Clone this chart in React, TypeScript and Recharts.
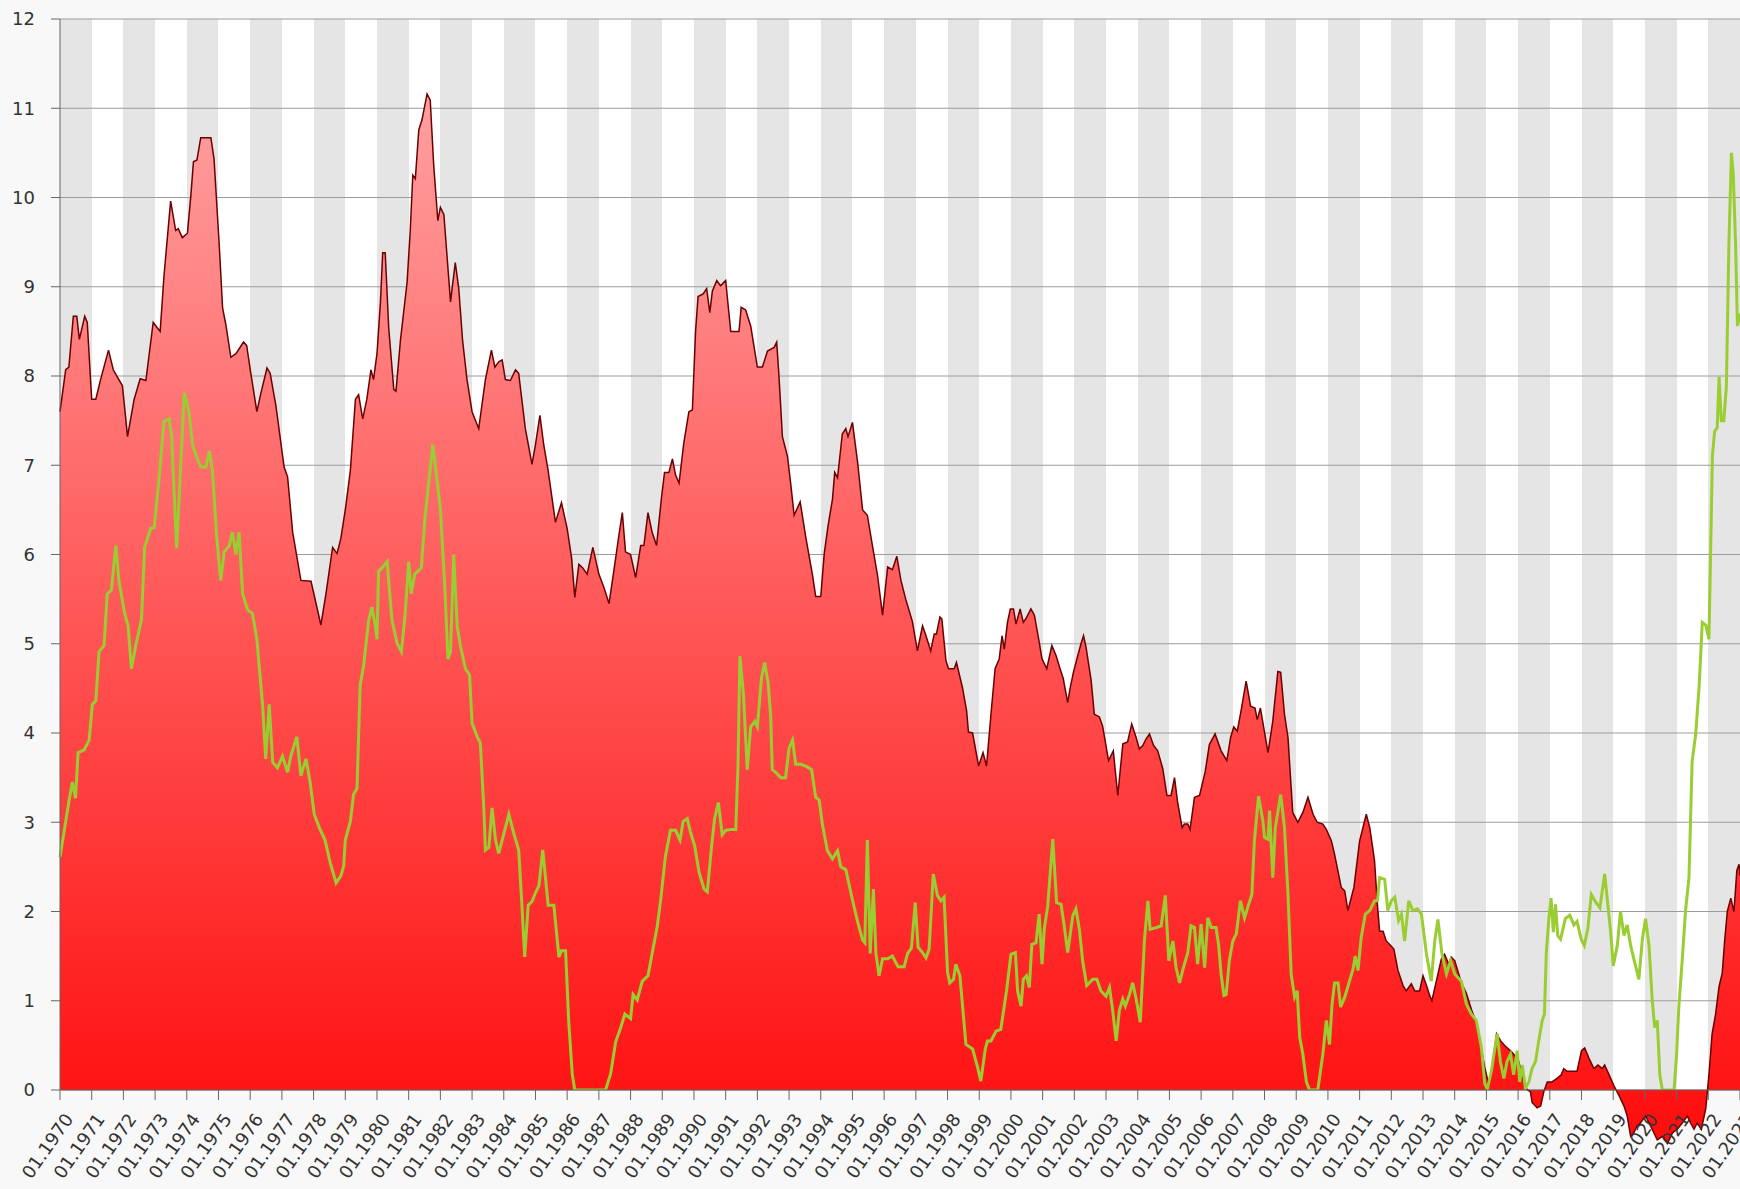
import React from "react";
import { Area, CartesianGrid, ComposedChart, Line, XAxis, YAxis } from "recharts";

const CHART_W = 1740;
const CHART_H = 1189;
const FONT = "'DejaVu Sans', Verdana, sans-serif";

// Red area: [decimal year, value].
const rate1970s: [number, number][] = [
  [1970.0, 7.6], [1970.18, 8.07], [1970.28, 8.1], [1970.42, 8.67], [1970.53, 8.67], [1970.61, 8.41],
  [1970.78, 8.67], [1970.86, 8.6], [1971.0, 7.74], [1971.13, 7.74], [1971.28, 7.96], [1971.53, 8.29],
  [1971.68, 8.07], [1971.97, 7.89], [1972.13, 7.32], [1972.34, 7.74], [1972.53, 7.97], [1972.71, 7.95],
  [1972.94, 8.6], [1973.16, 8.5], [1973.28, 9.12], [1973.49, 9.96], [1973.65, 9.63], [1973.73, 9.65],
  [1973.86, 9.55], [1974.02, 9.6], [1974.13, 10.03], [1974.21, 10.4], [1974.32, 10.42], [1974.44, 10.67],
  [1974.76, 10.67], [1974.86, 10.43], [1975.02, 9.49], [1975.13, 8.76], [1975.23, 8.58], [1975.39, 8.21],
  [1975.55, 8.25], [1975.79, 8.38], [1975.89, 8.34], [1976.02, 8.03], [1976.21, 7.6], [1976.34, 7.81],
  [1976.53, 8.09], [1976.63, 8.03], [1976.81, 7.67], [1977.07, 6.98], [1977.18, 6.87], [1977.34, 6.25],
  [1977.6, 5.71], [1977.92, 5.7], [1978.23, 5.21], [1978.39, 5.56], [1978.6, 6.08], [1978.74, 6.01],
  [1978.86, 6.18], [1979.0, 6.5], [1979.16, 6.94], [1979.32, 7.74], [1979.42, 7.79], [1979.55, 7.52],
  [1979.68, 7.74], [1979.81, 8.07], [1979.89, 7.96],
];

const rate1980s: [number, number][] = [
  [1980.0, 8.25], [1980.11, 8.83], [1980.18, 9.38], [1980.26, 9.38], [1980.37, 8.54], [1980.53, 7.85],
  [1980.6, 7.83], [1980.74, 8.4], [1980.95, 9.05], [1981.05, 9.63], [1981.13, 10.25], [1981.21, 10.21],
  [1981.32, 10.76], [1981.42, 10.87], [1981.58, 11.16], [1981.68, 11.09], [1981.79, 10.36], [1981.92, 9.74],
  [1982.0, 9.89], [1982.11, 9.81], [1982.32, 8.83], [1982.47, 9.27], [1982.58, 8.98], [1982.7, 8.4],
  [1982.84, 7.96], [1983.0, 7.6], [1983.21, 7.41], [1983.42, 7.96], [1983.61, 8.29], [1983.72, 8.1],
  [1983.84, 8.16], [1983.95, 8.18], [1984.05, 7.96], [1984.21, 7.95], [1984.37, 8.07], [1984.47, 8.03],
  [1984.68, 7.41], [1984.89, 7.01], [1985.0, 7.23], [1985.14, 7.56], [1985.26, 7.23], [1985.4, 6.94],
  [1985.63, 6.36], [1985.82, 6.58], [1986.0, 6.29], [1986.14, 5.96], [1986.24, 5.52], [1986.37, 5.89],
  [1986.49, 5.85], [1986.63, 5.78], [1986.81, 6.08], [1987.0, 5.78], [1987.16, 5.63], [1987.32, 5.45],
  [1987.47, 5.81], [1987.63, 6.21], [1987.74, 6.47], [1987.84, 6.03], [1988.0, 6.0], [1988.16, 5.74],
  [1988.32, 6.1], [1988.42, 6.1], [1988.55, 6.47], [1988.68, 6.25], [1988.82, 6.1], [1988.97, 6.62],
  [1989.07, 6.92], [1989.21, 6.92], [1989.32, 7.07], [1989.42, 6.89], [1989.53, 6.8], [1989.68, 7.25],
  [1989.84, 7.6], [1989.95, 7.62],
];

const rate1990s: [number, number][] = [
  [1990.05, 8.5], [1990.13, 8.89], [1990.29, 8.92], [1990.4, 8.98], [1990.5, 8.71], [1990.58, 8.95],
  [1990.72, 9.07], [1990.84, 9.01], [1991.0, 9.07], [1991.16, 8.5], [1991.42, 8.5], [1991.49, 8.77],
  [1991.63, 8.74], [1991.79, 8.56], [1992.0, 8.1], [1992.16, 8.1], [1992.32, 8.28], [1992.53, 8.32],
  [1992.61, 8.38], [1992.68, 8.01], [1992.79, 7.32], [1992.95, 7.1], [1993.05, 6.8], [1993.16, 6.44],
  [1993.35, 6.59], [1993.53, 6.19], [1993.74, 5.77], [1993.84, 5.53], [1994.0, 5.53], [1994.11, 6.01],
  [1994.23, 6.32], [1994.37, 6.62], [1994.44, 6.92], [1994.53, 6.86], [1994.68, 7.35], [1994.79, 7.41],
  [1994.86, 7.32], [1995.0, 7.48], [1995.16, 7.04], [1995.32, 6.5], [1995.47, 6.44], [1995.63, 6.1],
  [1995.79, 5.77], [1995.95, 5.32], [1996.11, 5.86], [1996.26, 5.83], [1996.4, 5.98], [1996.53, 5.71],
  [1996.68, 5.5], [1996.89, 5.25], [1997.05, 4.92], [1997.21, 5.2], [1997.32, 5.09], [1997.47, 4.92],
  [1997.58, 5.11], [1997.65, 5.11], [1997.76, 5.3], [1997.82, 5.28], [1997.95, 4.81], [1998.03, 4.72],
  [1998.21, 4.72], [1998.28, 4.79], [1998.47, 4.51], [1998.6, 4.25], [1998.66, 4.01], [1998.79, 4.0],
  [1998.98, 3.63], [1999.12, 3.78], [1999.23, 3.63], [1999.37, 4.21], [1999.5, 4.72], [1999.63, 4.83],
  [1999.72, 5.09], [1999.79, 4.94], [1999.89, 5.24], [1999.98, 5.39],
];

const rate2000s: [number, number][] = [
  [2000.08, 5.39], [2000.16, 5.22], [2000.29, 5.39], [2000.39, 5.24], [2000.47, 5.28], [2000.63, 5.39],
  [2000.74, 5.32], [2000.89, 5.02], [2000.98, 4.83], [2001.13, 4.72], [2001.29, 4.98], [2001.42, 4.87],
  [2001.55, 4.72], [2001.65, 4.61], [2001.79, 4.34], [2001.86, 4.49], [2001.97, 4.68], [2002.11, 4.87],
  [2002.21, 5.0], [2002.29, 5.09], [2002.37, 4.96], [2002.53, 4.59], [2002.63, 4.21], [2002.79, 4.18],
  [2002.89, 4.08], [2003.08, 3.69], [2003.23, 3.8], [2003.37, 3.3], [2003.53, 3.88], [2003.68, 3.9],
  [2003.81, 4.1], [2003.95, 3.95], [2004.05, 3.82], [2004.16, 3.86], [2004.26, 3.93], [2004.37, 3.99],
  [2004.5, 3.86], [2004.63, 3.8], [2004.79, 3.6], [2004.92, 3.3], [2005.05, 3.3], [2005.16, 3.5],
  [2005.26, 3.22], [2005.4, 2.94], [2005.47, 2.98], [2005.58, 2.98], [2005.65, 2.92], [2005.79, 3.28],
  [2005.95, 3.3], [2006.13, 3.57], [2006.26, 3.87], [2006.44, 3.99], [2006.63, 3.8], [2006.81, 3.69],
  [2006.93, 3.95], [2007.03, 4.07], [2007.14, 4.02], [2007.26, 4.25], [2007.42, 4.58], [2007.56, 4.3],
  [2007.7, 4.28], [2007.77, 4.15], [2007.87, 4.28], [2008.11, 3.78], [2008.26, 4.13], [2008.42, 4.69],
  [2008.51, 4.68], [2008.63, 4.21], [2008.74, 3.95], [2008.89, 3.11], [2009.05, 3.0], [2009.21, 3.11],
  [2009.37, 3.28], [2009.53, 3.09], [2009.66, 3.0], [2009.84, 2.98], [2009.95, 2.92],
];

const rate2010s: [number, number][] = [
  [2010.11, 2.79], [2010.21, 2.64], [2010.42, 2.27], [2010.53, 2.23], [2010.63, 2.01], [2010.82, 2.27],
  [2011.0, 2.79], [2011.21, 3.09], [2011.32, 2.94], [2011.47, 2.57], [2011.56, 2.08], [2011.63, 1.78],
  [2011.74, 1.78], [2011.84, 1.67], [2011.95, 1.63], [2012.08, 1.58], [2012.21, 1.34], [2012.37, 1.17],
  [2012.47, 1.11], [2012.63, 1.19], [2012.74, 1.11], [2012.89, 1.11], [2013.0, 1.28], [2013.11, 1.17],
  [2013.21, 1.06], [2013.28, 1.0], [2013.42, 1.22], [2013.58, 1.47], [2013.68, 1.52], [2013.81, 1.41],
  [2013.89, 1.49], [2014.0, 1.45], [2014.11, 1.32], [2014.21, 1.2], [2014.37, 1.08], [2014.53, 0.9],
  [2014.68, 0.75], [2014.82, 0.5], [2014.95, 0.25], [2015.08, 0.05], [2015.2, 0.3], [2015.32, 0.63],
  [2015.45, 0.55], [2015.6, 0.49], [2015.76, 0.44], [2015.86, 0.4], [2016.02, 0.32], [2016.12, 0.17],
  [2016.23, 0.02], [2016.39, -0.02], [2016.44, -0.14], [2016.6, -0.2], [2016.71, -0.18], [2016.81, -0.02],
  [2016.92, 0.09], [2017.07, 0.09], [2017.23, 0.13], [2017.36, 0.17], [2017.44, 0.24], [2017.55, 0.21],
  [2017.7, 0.21], [2017.86, 0.21], [2018.0, 0.44], [2018.1, 0.47], [2018.23, 0.36], [2018.39, 0.24],
  [2018.52, 0.28], [2018.65, 0.24], [2018.73, 0.28], [2018.87, 0.17], [2019.02, 0.05], [2019.18, -0.06],
  [2019.34, -0.18], [2019.44, -0.29], [2019.55, -0.52], [2019.65, -0.48], [2019.76, -0.4], [2019.86, -0.37],
];

const rate2020s: [number, number][] = [
  [2020.02, -0.29], [2020.13, -0.37], [2020.23, -0.44], [2020.39, -0.56], [2020.55, -0.52], [2020.71, -0.6],
  [2020.87, -0.48], [2021.02, -0.44], [2021.18, -0.37], [2021.34, -0.29], [2021.44, -0.37], [2021.55, -0.44],
  [2021.65, -0.37], [2021.78, -0.44], [2021.92, -0.21], [2022.02, 0.17], [2022.12, 0.63], [2022.23, 0.85],
  [2022.34, 1.16], [2022.44, 1.31], [2022.52, 1.69], [2022.6, 2.0], [2022.71, 2.15], [2022.81, 2.0],
  [2022.9, 2.46], [2022.97, 2.53], [2023.0, 2.4],
];

// Green line: [decimal year, value].
const cpi1970s: [number, number][] = [
  [1970.0, 2.61], [1970.13, 2.9], [1970.28, 3.23], [1970.39, 3.45], [1970.49, 3.27], [1970.57, 3.78],
  [1970.76, 3.81], [1970.92, 3.92], [1971.02, 4.32], [1971.13, 4.36], [1971.23, 4.91], [1971.39, 4.98],
  [1971.49, 5.56], [1971.62, 5.6], [1971.76, 6.1], [1971.86, 5.7], [1972.04, 5.34], [1972.15, 5.2],
  [1972.25, 4.72], [1972.39, 4.98], [1972.57, 5.27], [1972.67, 6.08], [1972.86, 6.29], [1972.97, 6.3],
  [1973.13, 6.87], [1973.28, 7.49], [1973.44, 7.52], [1973.52, 7.34], [1973.68, 6.07], [1973.81, 7.01],
  [1973.92, 7.81], [1974.07, 7.6], [1974.18, 7.23], [1974.28, 7.12], [1974.44, 6.98], [1974.6, 6.98],
  [1974.71, 7.16], [1974.81, 6.94], [1974.94, 6.21], [1975.07, 5.71], [1975.18, 6.03], [1975.34, 6.1],
  [1975.44, 6.25], [1975.55, 6.0], [1975.65, 6.25], [1975.76, 5.56], [1975.92, 5.38], [1976.07, 5.34],
  [1976.21, 5.05], [1976.39, 4.32], [1976.49, 3.71], [1976.6, 4.32], [1976.71, 3.67], [1976.86, 3.61],
  [1977.02, 3.74], [1977.18, 3.56], [1977.28, 3.74], [1977.47, 3.96], [1977.6, 3.52], [1977.76, 3.71],
  [1977.89, 3.45], [1978.02, 3.09], [1978.18, 2.94], [1978.36, 2.8], [1978.53, 2.54], [1978.71, 2.32],
  [1978.86, 2.4], [1978.95, 2.51], [1979.0, 2.8], [1979.16, 3.01], [1979.26, 3.31], [1979.37, 3.38],
  [1979.47, 4.54], [1979.58, 4.76], [1979.74, 5.27], [1979.84, 5.41], [1979.95, 5.2],
];

const cpi1980s: [number, number][] = [
  [1980.0, 5.05], [1980.05, 5.81], [1980.16, 5.85], [1980.32, 5.92], [1980.47, 5.27], [1980.63, 5.01],
  [1980.77, 4.91], [1980.89, 5.34], [1981.0, 5.92], [1981.08, 5.56], [1981.19, 5.78], [1981.4, 5.85],
  [1981.5, 6.36], [1981.63, 6.8], [1981.76, 7.23], [1981.86, 6.94], [1982.0, 6.51], [1982.14, 5.63],
  [1982.24, 4.83], [1982.32, 4.91], [1982.42, 6.0], [1982.53, 5.2], [1982.63, 4.98], [1982.79, 4.72],
  [1982.92, 4.65], [1983.0, 4.11], [1983.16, 3.96], [1983.26, 3.89], [1983.37, 3.16], [1983.42, 2.69],
  [1983.53, 2.72], [1983.63, 3.16], [1983.74, 2.8], [1983.84, 2.65], [1984.0, 2.87], [1984.16, 3.09],
  [1984.32, 2.87], [1984.47, 2.69], [1984.56, 2.15], [1984.66, 1.49], [1984.77, 2.07], [1984.89, 2.11],
  [1985.0, 2.21], [1985.11, 2.29], [1985.23, 2.69], [1985.34, 2.29], [1985.4, 2.07], [1985.58, 2.07],
  [1985.74, 1.49], [1985.82, 1.56], [1985.95, 1.56], [1986.05, 0.76], [1986.16, 0.18], [1986.24, 0],
  [1987.21, 0], [1987.37, 0.18], [1987.53, 0.54], [1987.68, 0.69], [1987.82, 0.85], [1988.0, 0.8],
  [1988.08, 1.07], [1988.21, 1.01], [1988.37, 1.22], [1988.55, 1.28], [1988.68, 1.53], [1988.84, 1.83],
  [1988.95, 2.13], [1989.1, 2.62], [1989.26, 2.91], [1989.42, 2.91], [1989.56, 2.8], [1989.66, 3.01],
  [1989.79, 3.04], [1989.89, 2.89],
];

const cpi1990s: [number, number][] = [
  [1990.02, 2.74], [1990.16, 2.44], [1990.32, 2.25], [1990.42, 2.22], [1990.55, 2.71], [1990.65, 3.04],
  [1990.77, 3.22], [1990.89, 2.86], [1991.0, 2.91], [1991.16, 2.92], [1991.32, 2.92], [1991.39, 3.65],
  [1991.45, 4.86], [1991.56, 4.44], [1991.68, 3.59], [1991.79, 4.07], [1991.92, 4.13], [1992.0, 4.07],
  [1992.13, 4.62], [1992.23, 4.79], [1992.34, 4.56], [1992.42, 4.19], [1992.47, 3.59], [1992.58, 3.56],
  [1992.74, 3.5], [1992.89, 3.5], [1993.0, 3.83], [1993.11, 3.92], [1993.21, 3.65], [1993.37, 3.65],
  [1993.58, 3.62], [1993.71, 3.59], [1993.84, 3.28], [1993.95, 3.25], [1994.05, 2.98], [1994.21, 2.68],
  [1994.37, 2.59], [1994.53, 2.68], [1994.63, 2.5], [1994.79, 2.47], [1995.0, 2.13], [1995.16, 1.89],
  [1995.32, 1.68], [1995.39, 1.65], [1995.47, 2.8], [1995.56, 1.53], [1995.66, 2.25], [1995.74, 1.53],
  [1995.84, 1.28], [1995.95, 1.47], [1996.11, 1.47], [1996.26, 1.5], [1996.44, 1.38], [1996.63, 1.38],
  [1996.74, 1.53], [1996.86, 1.59], [1996.98, 2.1], [1997.07, 1.6], [1997.21, 1.54], [1997.32, 1.48],
  [1997.42, 1.58], [1997.55, 2.42], [1997.68, 2.18], [1997.79, 2.12], [1997.89, 2.16], [1998.0, 1.32],
  [1998.07, 1.2], [1998.19, 1.24], [1998.26, 1.41], [1998.39, 1.28], [1998.58, 0.51], [1998.79, 0.46],
  [1998.95, 0.25], [1999.05, 0.1], [1999.19, 0.46], [1999.26, 0.55], [1999.37, 0.55], [1999.53, 0.66],
  [1999.68, 0.68], [1999.86, 1.11],
];

const cpi2000s: [number, number][] = [
  [2000.0, 1.52], [2000.14, 1.54], [2000.21, 1.11], [2000.32, 0.94], [2000.39, 1.24], [2000.49, 1.28],
  [2000.58, 1.15], [2000.66, 1.63], [2000.79, 1.65], [2000.89, 1.97], [2000.98, 1.41], [2001.05, 1.8],
  [2001.16, 2.06], [2001.32, 2.81], [2001.44, 2.1], [2001.58, 2.08], [2001.68, 1.84], [2001.79, 1.54],
  [2001.95, 1.95], [2002.05, 2.03], [2002.16, 1.8], [2002.26, 1.45], [2002.39, 1.17], [2002.58, 1.24],
  [2002.71, 1.24], [2002.84, 1.11], [2003.0, 1.05], [2003.11, 1.15], [2003.21, 0.89], [2003.32, 0.55],
  [2003.42, 0.89], [2003.53, 1.02], [2003.61, 0.94], [2003.74, 1.07], [2003.84, 1.2], [2003.95, 1.02],
  [2004.08, 0.76], [2004.21, 1.67], [2004.32, 2.12], [2004.39, 1.8], [2004.58, 1.82], [2004.74, 1.84],
  [2004.87, 2.18], [2004.98, 1.45], [2005.11, 1.67], [2005.21, 1.37], [2005.32, 1.2], [2005.44, 1.37],
  [2005.58, 1.54], [2005.68, 1.84], [2005.79, 1.82], [2005.89, 1.41], [2006.0, 1.86], [2006.11, 1.37],
  [2006.21, 1.93], [2006.32, 1.82], [2006.47, 1.82], [2006.55, 1.63], [2006.63, 1.3], [2006.72, 1.06],
  [2006.79, 1.07], [2006.89, 1.45], [2007.0, 1.67], [2007.11, 1.75], [2007.24, 2.12], [2007.37, 1.93],
  [2007.5, 2.08], [2007.6, 2.19], [2007.68, 2.79], [2007.81, 3.29], [2007.95, 3.01], [2008.0, 2.83],
  [2008.11, 2.81], [2008.16, 3.13], [2008.26, 2.38], [2008.34, 2.94], [2008.51, 3.31], [2008.63, 2.94],
  [2008.74, 2.19], [2008.84, 1.3], [2008.95, 1.04], [2009.03, 1.11], [2009.11, 0.59], [2009.21, 0.4],
  [2009.32, 0.09], [2009.42, 0], [2009.68, 0], [2009.84, 0.4], [2009.95, 0.78],
];

const cpi2010s: [number, number][] = [
  [2010.05, 0.51], [2010.13, 0.96], [2010.21, 1.2], [2010.32, 1.2], [2010.4, 0.93], [2010.53, 1.04],
  [2010.68, 1.22], [2010.79, 1.35], [2010.86, 1.5], [2010.95, 1.34], [2011.05, 1.71], [2011.18, 1.97],
  [2011.32, 2.01], [2011.47, 2.12], [2011.56, 2.12], [2011.63, 2.38], [2011.79, 2.36], [2011.89, 2.01],
  [2012.0, 2.12], [2012.11, 2.16], [2012.23, 1.9], [2012.32, 1.97], [2012.42, 1.67], [2012.55, 2.12],
  [2012.68, 2.01], [2012.82, 2.03], [2012.95, 1.97], [2013.11, 1.52], [2013.26, 1.22], [2013.37, 1.67],
  [2013.47, 1.91], [2013.6, 1.52], [2013.74, 1.3], [2013.87, 1.45], [2014.0, 1.3], [2014.21, 1.22],
  [2014.37, 0.96], [2014.53, 0.85], [2014.68, 0.78], [2014.84, 0.48], [2014.95, 0.07], [2015.03, 0.01],
  [2015.16, 0.22], [2015.26, 0.45], [2015.34, 0.63], [2015.44, 0.32], [2015.55, 0.13], [2015.65, 0.32],
  [2015.76, 0.4], [2015.86, 0.17], [2015.97, 0.44], [2016.05, 0.09], [2016.13, 0.28], [2016.23, 0.02],
  [2016.34, 0.09], [2016.44, 0.24], [2016.55, 0.32], [2016.65, 0.55], [2016.76, 0.78], [2016.83, 0.85],
  [2016.89, 1.54], [2016.97, 1.92], [2017.04, 2.15], [2017.11, 1.77], [2017.18, 2.08], [2017.25, 1.73],
  [2017.34, 1.69], [2017.49, 1.92], [2017.63, 1.96], [2017.76, 1.85], [2017.86, 1.89], [2017.99, 1.69],
  [2018.09, 1.62], [2018.2, 1.81], [2018.31, 2.19], [2018.44, 2.11], [2018.58, 2.04], [2018.73, 2.42],
  [2018.83, 2.08], [2018.92, 1.77], [2019.0, 1.39], [2019.13, 1.62], [2019.23, 2.0], [2019.34, 1.73],
  [2019.44, 1.85], [2019.55, 1.62], [2019.65, 1.47], [2019.81, 1.24], [2019.92, 1.69],
];

const cpi2020s: [number, number][] = [
  [2020.02, 1.92], [2020.13, 1.62], [2020.23, 1.01], [2020.31, 0.7], [2020.39, 0.78], [2020.47, 0.17],
  [2020.55, 0], [2020.92, 0], [2021.0, 0.4], [2021.07, 0.93], [2021.18, 1.47], [2021.28, 2.0],
  [2021.39, 2.38], [2021.49, 3.68], [2021.6, 3.98], [2021.71, 4.52], [2021.81, 5.24], [2021.92, 5.21],
  [2022.02, 5.05], [2022.07, 5.97], [2022.13, 7.11], [2022.2, 7.38], [2022.28, 7.42], [2022.34, 7.99],
  [2022.41, 7.5], [2022.49, 7.5], [2022.57, 7.88], [2022.65, 9.48], [2022.73, 10.5], [2022.79, 10.24],
  [2022.86, 9.48], [2022.92, 8.56], [2023.0, 8.7],
];

const yearTicks = [
  1970, 1971, 1972, 1973, 1974, 1975, 1976, 1977, 1978, 1979, 1980, 1981, 1982, 1983, 1984, 1985, 1986,
  1987, 1988, 1989, 1990, 1991, 1992, 1993, 1994, 1995, 1996, 1997, 1998, 1999, 2000, 2001, 2002, 2003,
  2004, 2005, 2006, 2007, 2008, 2009, 2010, 2011, 2012, 2013, 2014, 2015, 2016, 2017, 2018, 2019, 2020,
  2021, 2022, 2023,
];
const valueTicks = [0, 1, 2, 3, 4, 5, 6, 7, 8, 9, 10, 11, 12];

interface Row {
  t: number;
  rate?: number;
  cpi?: number;
}

// Both series are sampled at their own turning points, so merge them on t
// and let connectNulls bridge the gaps.
function buildRows(): Row[] {
  const byT = new Map<number, Row>();
  const put = (list: [number, number][], key: "rate" | "cpi") => {
    for (const [t, v] of list) {
      const row = byT.get(t) ?? { t };
      row[key] = v;
      byT.set(t, row);
    }
  };
  put([...rate1970s, ...rate1980s, ...rate1990s, ...rate2000s, ...rate2010s, ...rate2020s], "rate");
  put([...cpi1970s, ...cpi1980s, ...cpi1990s, ...cpi2000s, ...cpi2010s, ...cpi2020s], "cpi");
  return [...byT.values()].sort((a, b) => a.t - b.t);
}

const rows = buildRows();

function YearTick(props: any) {
  const { x, y, payload } = props;
  const ax = x + 14;
  const ay = y + 17;
  return (
    <text
      x={ax}
      y={ay}
      transform={`rotate(-55 ${ax} ${ay})`}
      textAnchor="end"
      fontSize={18}
      fill="#333"
    >
      {`01.${payload.value}`}
    </text>
  );
}

export default function App() {
  return (
    <div style={{ width: CHART_W, height: CHART_H, background: "#f8f8f8", fontFamily: FONT, overflow: "hidden" }}>
      {/* negative values hang below the 0 line, so undo the plot clip on the area */}
      <style>{`body{margin:0} .recharts-area, .recharts-area * { clip-path: none !important; }`}</style>
      <ComposedChart width={CHART_W} height={CHART_H} data={rows} margin={{ top: 19, right: 0, bottom: 0, left: 0 }}>
        <defs>
          <linearGradient id="rateFill" x1="0" y1="0" x2="0" y2="1">
            <stop offset="0%" stopColor="#ffa0a0" />
            <stop offset="55%" stopColor="#ff4f4f" />
            <stop offset="100%" stopColor="#ff0c0c" />
          </linearGradient>
        </defs>
        {/* year stripes: one grid for the fills only, the second for the value lines */}
        <CartesianGrid
          horizontal={false}
          vertical
          stroke="transparent"
          fill="#ffffff"
          verticalFill={["#e5e5e5", "#ffffff"]}
        />
        <CartesianGrid vertical={false} stroke="#9c9c9c" />
        <XAxis
          type="number"
          dataKey="t"
          domain={[1970, 2023]}
          ticks={yearTicks}
          interval={0}
          height={99}
          tickSize={10}
          tickMargin={2}
          stroke="#666"
          tick={<YearTick />}
        />
        <YAxis
          type="number"
          domain={[0, 12]}
          ticks={valueTicks}
          interval={0}
          allowDataOverflow
          width={60}
          tickSize={9}
          tickMargin={16}
          stroke="#666"
          tick={{ fontSize: 18, fill: "#333" }}
        />
        <Area
          type="linear"
          dataKey="rate"
          stroke="#6a0000"
          strokeWidth={1.5}
          fill="url(#rateFill)"
          fillOpacity={1}
          connectNulls
          dot={false}
          activeDot={false}
          isAnimationActive={false}
        />
        <Line
          type="linear"
          dataKey="cpi"
          stroke="#9acd32"
          strokeWidth={3}
          connectNulls
          dot={false}
          activeDot={false}
          isAnimationActive={false}
        />
      </ComposedChart>
    </div>
  );
}
